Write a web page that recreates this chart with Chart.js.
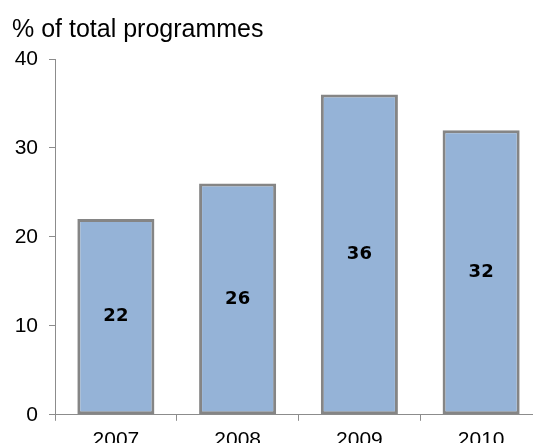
<!DOCTYPE html>
<html>
<head>
<meta charset="utf-8">
<script src="https://cdn.jsdelivr.net/npm/chart.js@4.4.1/dist/chart.umd.min.js"></script>
<style>
  html, body { margin: 0; padding: 0; background: #fff; overflow: hidden; }
  #wrap { width: 533px; height: 443px; overflow: hidden; }
</style>
</head>
<body>
<div id="wrap"><canvas id="programmesChart" width="544" height="443"></canvas></div>
<script>
const anos = ['2007', '2008', '2009', '2010'];
const percentuais = [22, 26, 36, 32];
const ticksY = [0, 10, 20, 30, 40];

// rótulos no meio das barras
const rotulosBarras = {
  id: 'rotulosBarras',
  afterDatasetsDraw(chart) {
    const ctx = chart.ctx;
    const meta = chart.getDatasetMeta(0);
    ctx.save();
    ctx.font = 'bold 18px "DejaVu Sans"';
    ctx.fillStyle = '#000';
    ctx.textAlign = 'center';
    ctx.textBaseline = 'middle';
    meta.data.forEach((bar, i) => {
      ctx.fillText(String(percentuais[i]), bar.x, (bar.y + bar.base) / 2);
    });
    ctx.restore();
  }
};

// o gráfico original é cortado à direita, por isso o canvas é um pouco mais largo
const ctx = document.getElementById('programmesChart').getContext('2d');
new Chart(ctx, {
  type: 'bar',
  data: {
    labels: anos,
    datasets: [{
      data: percentuais,
      backgroundColor: '#95B3D7',
      borderColor: '#858585',
      borderWidth: 3,
      borderSkipped: false,
      categoryPercentage: 1,
      barPercentage: 0.633
    }]
  },
  options: {
    responsive: false,
    animation: false,
    layout: { padding: { left: 12, right: 2, top: 0, bottom: -17 } },
    plugins: {
      legend: { display: false },
      tooltip: { enabled: false },
      title: {
        display: true,
        text: '% of total programmes',
        align: 'start',
        color: '#000',
        font: { family: '"Liberation Sans", Arial', size: 25, weight: 'normal' },
        padding: { top: 15, bottom: 14 }
      }
    },
    scales: {
      x: {
        grid: {
          offset: true,
          drawOnChartArea: false,
          tickLength: 6,
          color: '#8c8c8c'
        },
        border: { color: '#8c8c8c', width: 1 },
        ticks: {
          color: '#000',
          padding: 7,
          font: { family: '"Liberation Sans", Arial', size: 21 }
        }
      },
      y: {
        min: 0,
        max: 40,
        afterBuildTicks(axis) {
          axis.ticks = ticksY.map(v => ({ value: v }));
        },
        afterFit(axis) {
          axis.width = 43;
        },
        grid: {
          drawOnChartArea: false,
          tickLength: 6,
          color: '#8c8c8c'
        },
        border: { color: '#8c8c8c', width: 1 },
        ticks: {
          color: '#000',
          padding: 11,
          font: { family: '"Liberation Sans", Arial', size: 21 }
        }
      }
    }
  },
  plugins: [rotulosBarras]
});
</script>
</body>
</html>
